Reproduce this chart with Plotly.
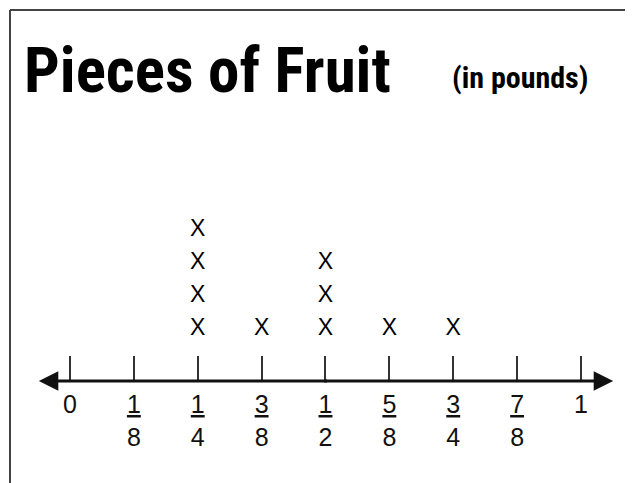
import plotly.graph_objects as go

# data
tick_vals = [0, 1/8, 1/4, 3/8, 1/2, 5/8, 3/4, 7/8, 1]
tick_num = ["0", "1", "1", "3", "1", "5", "3", "7", "1"]
tick_den = ["", "8", "4", "8", "2", "8", "4", "8", ""]
fruit_weights = [1/4, 1/4, 1/4, 1/4, 3/8, 1/2, 1/2, 1/2, 5/8, 3/4]

# stack the X marks
seen = {}
xs, ys = [], []
for w in fruit_weights:
    seen[w] = seen.get(w, 0) + 1
    xs.append(w)
    ys.append(seen[w])

tick_text = [n if not d else f"<u>{n}</u><br>{d}" for n, d in zip(tick_num, tick_den)]

Y_LO, Y_HI = -0.576, 10.727

fig = go.Figure()
fig.add_trace(go.Scatter(
    x=xs, y=ys, mode="text", text=["X"] * len(xs),
    textfont=dict(family="Liberation Sans, Arial", size=23, color="black"),
    hoverinfo="skip", showlegend=False,
))

# number line with arrows at both ends
for tip, tail in [(-0.061, 0.506), (1.063, 0.494)]:
    fig.add_annotation(
        x=tip, y=Y_LO, ax=tail, ay=Y_LO, axref="x", ayref="y",
        xref="x", yref="y", text="", showarrow=True,
        arrowhead=2, arrowsize=1.3, arrowwidth=3, arrowcolor="#111",
    )

fig.add_annotation(
    x=14 / 625, y=1 - 62 / 373, xref="paper", yref="paper", xanchor="left", yanchor="middle",
    text="Pieces of Fruit", showarrow=False,
    font=dict(family="Roboto Condensed, DejaVu Sans Condensed, sans-serif", size=63,
              color="black", weight="bold"),
)
fig.add_annotation(
    x=442 / 625, y=1 - 69 / 373, xref="paper", yref="paper", xanchor="left", yanchor="middle",
    text="(in pounds)", showarrow=False,
    font=dict(family="Roboto Condensed, DejaVu Sans Condensed, sans-serif", size=30,
              color="black", weight="bold"),
)

# frame (top and left only)
fig.add_shape(type="line", xref="paper", yref="paper", x0=2 / 625, x1=1.01,
              y0=1 - 2 / 373, y1=1 - 2 / 373, line=dict(color="#444", width=2))
fig.add_shape(type="line", xref="paper", yref="paper", x0=2 / 625, x1=2 / 625,
              y0=1 - 2 / 373, y1=-0.3, line=dict(color="#444", width=2))

fig.update_xaxes(
    range=[-0.1213, 1.1018], tickvals=tick_vals, ticktext=tick_text,
    ticks="inside", ticklen=25, tickwidth=2, tickcolor="#333",
    tickfont=dict(family="Liberation Sans, Arial", size=25, color="#111"),
    showgrid=False, zeroline=False, showline=False,
    ticklabelstandoff=6, fixedrange=True,
)
fig.update_yaxes(range=[Y_LO, Y_HI], visible=False, fixedrange=True)

fig.update_layout(
    width=625, height=475,
    margin=dict(l=0, r=0, t=0, b=102),
    plot_bgcolor="white", paper_bgcolor="white",
)

fig.write_html("out.html")
